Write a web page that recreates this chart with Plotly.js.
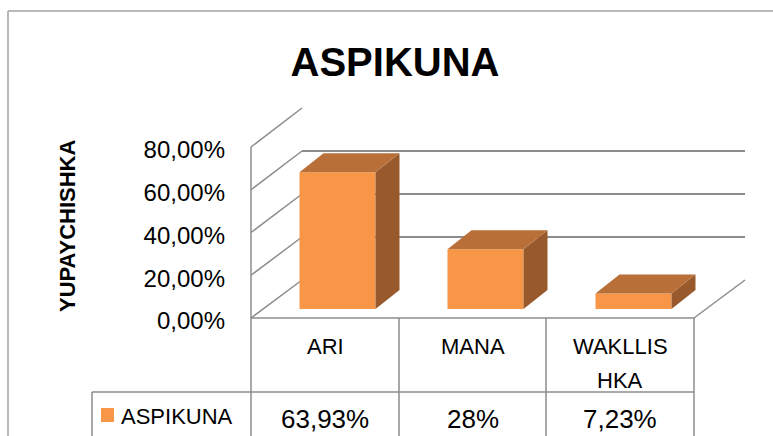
<!DOCTYPE html>
<html><head><meta charset="utf-8">
<script src="https://cdn.plot.ly/plotly-3.0.1.min.js"></script>
<style>html,body{margin:0;padding:0;background:#fff;overflow:hidden}</style>
</head><body><div id="chart" style="width:773px;height:436px"></div>
<script>
// ---- data ----
const chartTitle = "ASPIKUNA";
const yTitle = "YUPAYCHISHKA";
const seriesName = "ASPIKUNA";
const categories = ["ARI", "MANA", "WAKLLISHKA"];
const categoryLabels = ["ARI", "MANA", "WAKLLIS<br>HKA"];
const values = [0.6393, 0.28, 0.0723];
const valueLabels = ["63,93%", "28%", "7,23%"];
const yTickVals = [0, 0.2, 0.4, 0.6, 0.8];

// ---- geometry (pixels) ----
const W = 773, H = 436;
const X = p => p / W, Y = p => 1 - p / H;
const yMax = 0.8;
const barBase = 309, barTopMax = 138;          // front plane of the bars
const pxPerUnit = (barBase - barTopMax) / yMax;
const DX = 24, DY = 19;                         // bar depth offset
const colPx = 148, barPx = 76;
const barAxisLeft = 263.5;
const wallBackLeft = 302, wallBackRight = 745, wallBack0 = 280, wallBackTop = 108;
const floorFrontLeft = 251, floorFrontRight = 694, floorFront = 318;
const leftWallTop = 147;
const tableLeft = 92, tableRow = 392;
const colEdges = [251, 399, 546, 694];

const orange = "#F79646", topC = "#B86F38", sideC = "#985A2C";
const gridC = "#8c8c8c", frameC = "#a3a3a3";
const font = "Liberation Sans, Arial, sans-serif";

const traces = [
  // back wall subplot (drawn first, so its gridlines stay behind the bars)
  {type: "scatter", x: [], y: [], xaxis: "x", yaxis: "y", hoverinfo: "skip", showlegend: false},
  // tick-label axis subplot
  {type: "scatter", x: [], y: [], xaxis: "x", yaxis: "y3", hoverinfo: "skip", showlegend: false},
  // bars
  {type: "bar", x: categories, y: values, name: seriesName, width: barPx / colPx,
   marker: {color: orange, line: {width: 0}}, hoverinfo: "skip", xaxis: "x2", yaxis: "y2"}
];

const shapes = [];
function line(x0, y0, x1, y1, color, w, layer) {
  shapes.push({type: "line", xref: "paper", yref: "paper", x0: X(x0), y0: Y(y0), x1: X(x1), y1: Y(y1),
               line: {color: color, width: w}, layer: layer || "below"});
}
// outer frame
line(8, 11, 773, 11, frameC, 1.5);
line(8, 11, 8, 436, frameC, 1.5);
// left wall
const frontPx = (leftWallTop - floorFront) / yMax, backPx = (wallBackTop - wallBack0) / yMax;
yTickVals.forEach(v => line(floorFrontLeft, floorFront + v * frontPx, wallBackLeft, wallBack0 + v * backPx, gridC, 1.5));
line(floorFrontLeft, floorFront, floorFrontLeft, leftWallTop, gridC, 1.5);
// floor
line(floorFrontLeft, floorFront, floorFrontRight, floorFront, gridC, 1.5);
line(floorFrontRight, floorFront, wallBackRight, wallBack0, gridC, 1.5);
// data table
colEdges.forEach(x => line(x, floorFront, x, 440, gridC, 1.5));
line(tableLeft, tableRow, colEdges[colEdges.length - 1], tableRow, gridC, 1.5);
line(tableLeft, tableRow, tableLeft, 440, gridC, 1.5);
// legend key
shapes.push({type: "rect", xref: "paper", yref: "paper", x0: X(101), x1: X(114), y0: Y(408), y1: Y(422),
             fillcolor: orange, line: {width: 0}, layer: "above"});

// 3D faces of bars, anchored on the bar data through the axes
const hw = barPx / 2;
values.forEach((v, i) => {
  const h = v * pxPerUnit;
  shapes.push({type: "path", xref: "x2", yref: "y2", xsizemode: "pixel", ysizemode: "pixel",
    xanchor: i, yanchor: v,
    path: `M${hw},0 L${hw + DX},${DY} L${hw + DX},${DY - h} L${hw},${-h} Z`,
    fillcolor: sideC, line: {width: 0}, layer: "above"});
  shapes.push({type: "path", xref: "x2", yref: "y2", xsizemode: "pixel", ysizemode: "pixel",
    xanchor: i, yanchor: v,
    path: `M${-hw},0 L${hw},0 L${hw + DX},${DY} L${-hw + DX},${DY} Z`,
    fillcolor: topC, line: {width: 0}, layer: "above"});
});

const annotations = [];
function txt(text, x, y, size, extra) {
  annotations.push(Object.assign({text: text, xref: "paper", yref: "paper", x: X(x), y: Y(y),
    xanchor: "center", yanchor: "middle", showarrow: false,
    font: {family: font, size: size, color: "#000"}}, extra || {}));
}
// y axis title
txt("<b>" + yTitle + "</b>", 67, 226, 22, {textangle: -90});
// category row and value row of the table
categoryLabels.forEach((lab, i) => {
  const cx = (colEdges[i] + colEdges[i + 1]) / 2;
  lab.split("<br>").forEach((part, j) => txt(part, cx, 346 + j * 34, 22));
  txt(valueLabels[i], cx, 419, 26);
});
txt(seriesName, 119, 416, 22, {xanchor: "left"});

const layout = {
  width: W, height: H, autosize: false,
  margin: {l: 0, r: 0, t: 0, b: 0, pad: 0},
  paper_bgcolor: "#fff", plot_bgcolor: "rgba(0,0,0,0)",
  separators: ",.",
  showlegend: false,
  font: {family: font, color: "#000"},
  title: {text: "<b>" + chartTitle + "</b>", x: X(395), xanchor: "center", xref: "paper",
          y: Y(62), yanchor: "middle", yref: "container",
          font: {family: font, size: 40, color: "#000"}},
  // back wall
  xaxis: {domain: [X(wallBackLeft), X(wallBackRight)], range: [0, 1], showticklabels: false, showgrid: false,
          zeroline: false, showline: false, ticks: "", anchor: "y"},
  yaxis: {domain: [Y(wallBack0), Y(wallBackTop)], range: [0, yMax], tickvals: yTickVals, showticklabels: false,
          showgrid: true, gridcolor: gridC, gridwidth: 1.5, zeroline: false, showline: false, ticks: "", anchor: "x"},
  // bars (front plane of the bars)
  xaxis2: {domain: [X(barAxisLeft), X(barAxisLeft + 3 * colPx)], range: [-0.5, 2.5], type: "category",
           showticklabels: false, showgrid: false, zeroline: false, showline: false, ticks: "", anchor: "y2"},
  yaxis2: {domain: [Y(barBase), Y(barTopMax)], range: [0, yMax], showticklabels: false, showgrid: false,
           zeroline: false, showline: false, ticks: "", anchor: "x2"},
  // value axis labels
  yaxis3: {domain: [Y(321), Y(150)], range: [0, yMax], tickvals: yTickVals, tickformat: ".2%",
           showgrid: false, zeroline: false, showline: false, ticks: "", anchor: "free", position: X(225),
           side: "left", tickfont: {family: font, size: 24, color: "#000"}},
  shapes: shapes,
  annotations: annotations
};
Plotly.newPlot("chart", traces, layout, {staticPlot: true, displayModeBar: false});
</script></body></html>
